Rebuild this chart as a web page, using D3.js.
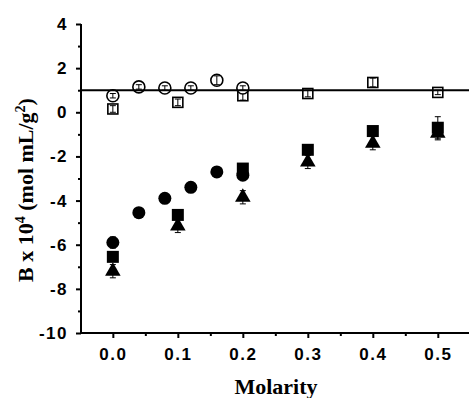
<!DOCTYPE html>
<html>
<head>
<meta charset="utf-8">
<style>
  body { margin: 0; background: #fff; }
  .tick text { font-family: "Liberation Sans", Arial, sans-serif; font-weight: bold; font-size: 17px; letter-spacing: 1.5px; }
  .axis-title { font-family: "Liberation Serif", "Times New Roman", serif; font-weight: bold; font-size: 22px; }
</style>
</head>
<body>
<script src="https://d3js.org/d3.v7.min.js"></script>
<script>
// x positions
var molFine = [0, 0.04, 0.08, 0.12, 0.16, 0.2];
var molCoarse = [0, 0.1, 0.2, 0.3, 0.4, 0.5];

// series (B x 10^4)
var openCircle = [0.75, 1.15, 1.1, 1.1, 1.45, 1.1];
var openCircleErr = [0.1, 0.1, 0.1, 0.1, 0.2, 0.1];
var openSquare = [0.15, 0.45, 0.75, 0.85, 1.35, 0.9];
var openSquareErr = [0.15, 0.15, 0.2, 0.15, 0.2, 0.1];
var filledCircle = [-5.9, -4.55, -3.9, -3.4, -2.7, -2.85];
var filledCircleErr = [0.25, 0.1, 0.1, 0.1, 0.1, 0.1];
var filledSquare = [-6.55, -4.65, -2.55, -1.7, -0.85, -0.7];
var filledSquareErr = [0.1, 0.1, 0.1, 0.1, 0.1, 0.5];
var filledTriangle = [-7.2, -5.15, -3.85, -2.25, -1.4, -0.95];
var filledTriangleErr = [0.3, 0.3, 0.3, 0.3, 0.3, 0.3];

var refLine = 1;
var xTicks = [0, 0.1, 0.2, 0.3, 0.4, 0.5];
var yTicks = [4, 2, 0, -2, -4, -6, -8, -10];

var width = 470, height = 398;
var svg = d3.select("body").append("svg").attr("width", width).attr("height", height);

var x = d3.scaleLinear().domain([-0.049, 0.548]).range([81, 469]);
var y = d3.scaleLinear().domain([-10, 4]).range([333, 24]);

// axes
svg.append("g").attr("transform", "translate(0,333)")
  .call(d3.axisBottom(x).tickValues(xTicks).tickFormat(d3.format(".1f")).tickSize(5).tickPadding(10));
svg.append("g").attr("transform", "translate(0,333)")
  .call(d3.axisBottom(x).tickValues([0.05, 0.15, 0.25, 0.35, 0.45]).tickFormat("").tickSize(3));
svg.append("g").attr("transform", "translate(81,0)")
  .call(d3.axisLeft(y).tickValues(yTicks).tickFormat(function(d) { return String(d); }).tickSize(5).tickPadding(8));
svg.append("g").attr("transform", "translate(81,0)")
  .call(d3.axisLeft(y).tickValues([3, 1, -1, -3, -5, -7, -9]).tickFormat("").tickSize(3));

svg.selectAll(".domain").remove();
svg.selectAll(".tick line").attr("stroke-width", 2);
svg.append("line").attr("x1", 80).attr("x2", 469).attr("y1", 333).attr("y2", 333).attr("stroke", "#000").attr("stroke-width", 2);
svg.append("line").attr("x1", 81).attr("x2", 81).attr("y1", 24).attr("y2", 334).attr("stroke", "#000").attr("stroke-width", 2);

function errBars(xs, ys, es) {
  var g = svg.append("g").attr("stroke", "#000").attr("stroke-width", 1);
  xs.forEach(function(d, i) {
    g.append("line").attr("x1", x(d)).attr("x2", x(d)).attr("y1", y(ys[i] - es[i])).attr("y2", y(ys[i] + es[i]));
    g.append("line").attr("x1", x(d) - 3).attr("x2", x(d) + 3).attr("y1", y(ys[i] + es[i])).attr("y2", y(ys[i] + es[i]));
    g.append("line").attr("x1", x(d) - 3).attr("x2", x(d) + 3).attr("y1", y(ys[i] - es[i])).attr("y2", y(ys[i] - es[i]));
  });
}

// filled series
errBars(molCoarse, filledTriangle, filledTriangleErr);
errBars(molCoarse, filledSquare, filledSquareErr);
errBars(molFine, filledCircle, filledCircleErr);

svg.append("g").selectAll("path").data(molCoarse).enter().append("path")
  .attr("d", d3.symbol().type(d3.symbolTriangle).size(105))
  .attr("transform", function(d, i) { return "translate(" + x(d) + "," + y(filledTriangle[i]) + ")"; })
  .attr("fill", "#000");
svg.append("g").selectAll("rect").data(molCoarse).enter().append("rect")
  .attr("x", function(d) { return x(d) - 6; })
  .attr("y", function(d, i) { return y(filledSquare[i]) - 6; })
  .attr("width", 12).attr("height", 12).attr("fill", "#000");
svg.append("g").selectAll("circle").data(molFine).enter().append("circle")
  .attr("cx", function(d) { return x(d); })
  .attr("cy", function(d, i) { return y(filledCircle[i]); })
  .attr("r", 6.5).attr("fill", "#000");

// open series
svg.append("g").selectAll("rect").data(molCoarse).enter().append("rect")
  .attr("x", function(d) { return x(d) - 5; })
  .attr("y", function(d, i) { return y(openSquare[i]) - 5; })
  .attr("width", 10).attr("height", 10).attr("fill", "#fff").attr("stroke", "#000").attr("stroke-width", 1.6);
errBars(molCoarse, openSquare, openSquareErr);
svg.append("g").selectAll("circle").data(molFine).enter().append("circle")
  .attr("cx", function(d) { return x(d); })
  .attr("cy", function(d, i) { return y(openCircle[i]); })
  .attr("r", 6).attr("fill", "#fff").attr("stroke", "#000").attr("stroke-width", 1.6);
errBars(molFine, openCircle, openCircleErr);

// reference line
svg.append("line").attr("x1", x.range()[0]).attr("x2", x.range()[1])
  .attr("y1", y(refLine)).attr("y2", y(refLine)).attr("stroke", "#000").attr("stroke-width", 2);

// titles
svg.append("text").attr("class", "axis-title").attr("x", 276).attr("y", 394).attr("text-anchor", "middle").text("Molarity");
var yl = svg.append("text").attr("class", "axis-title").attr("text-anchor", "middle")
  .attr("transform", "translate(33,190) rotate(-90)");
yl.append("tspan").text("B x 10");
yl.append("tspan").attr("dy", -8).attr("font-size", 14).text("4");
yl.append("tspan").attr("dy", 8).text(" (mol mL/g");
yl.append("tspan").attr("dy", -8).attr("font-size", 14).text("2");
yl.append("tspan").attr("dy", 8).text(")");
</script>
</body>
</html>
